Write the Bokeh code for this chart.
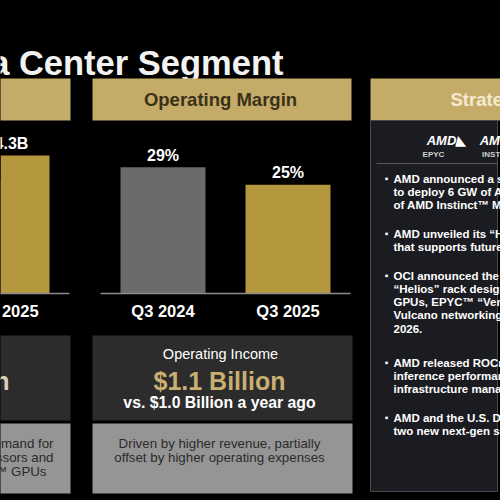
from bokeh.plotting import figure
from bokeh.models import Range1d, GlobalInlineStyleSheet
from bokeh.core.properties import value
from bokeh.embed import file_html
from bokeh.resources import INLINE

# ---------------- data ----------------
revenue_quarters = ["Q3 2024", "Q3 2025"]
revenue_bn = [3.5, 4.3]
revenue_labels = ["$3.5B", "$4.3B"]

margin_quarters = ["Q3 2024", "Q3 2025"]
margin_pct = [29, 25]
margin_labels = ["29%", "25%"]

bar_colors = ["#6b6b6b", "#b5973e"]

title_text = "Data Center Segment"
header_texts = ["Revenue", "Operating Margin", "Strategic Highlights"]

income_title = "Operating Income"
income_value = "$1.1 Billion"
income_compare = "vs. $1.0 Billion a year ago"
income_note = ["Driven by higher revenue, partially", "offset by higher operating expenses"]

revenue_value = "$4.3 Billion"
revenue_note = ["Growth driven by strong demand for", "AMD EPYC\u2122 processors and", "AMD Instinct\u2122 GPUs"]

bullets = [
    ["AMD announced a strategic partnership", "to deploy 6 GW of AMD GPUs, starting", "of AMD Instinct\u2122 MI450 GPUs"],
    ["AMD unveiled its \u201cHelios\u201d rack-scale", "that supports future AI workloads"],
    ["OCI announced the first publicly", "\u201cHelios\u201d rack design with MI450", "GPUs, EPYC\u2122 \u201cVenice\u201d CPUs and",
     "Vulcano networking, starting in", "2026."],
    ["AMD released ROCm 7 delivering", "inference performance gains and", "infrastructure management tools"],
    ["AMD and the U.S. DOE announced", "two new next-gen supercomputers"],
]

# ---------------- layout (pixel space of the slide) ----------------
FONT = value("Liberation Sans")
X0, X1, Y0, Y1 = 0, 500, 0, 500

p = figure(width=500, height=500, x_range=Range1d(X0, X1), y_range=Range1d(Y1, Y0),
           output_backend="svg", toolbar_location=None, min_border=0,
           x_axis_location=None, y_axis_location=None,
           background_fill_color="black", border_fill_color="black", outline_line_color=None)
p.grid.visible = False
p.stylesheets = [GlobalInlineStyleSheet(css="html, body { background: #000; }")]

# chart scales: category pitch / baseline / pixels per unit
PITCH = 125.0
BASE = 293.0
m_first = 162.5
m_scale = 4.35
r_first = 6.5 - PITCH
r_scale = 138.0 / 4.3

p.extra_x_ranges = {
    "m": Range1d((X0 - m_first) / PITCH, (X1 - m_first) / PITCH),
    "r": Range1d((X0 - r_first) / PITCH, (X1 - r_first) / PITCH),
}
p.extra_y_ranges = {
    "m": Range1d((BASE - Y1) / m_scale, (BASE - Y0) / m_scale),
    "r": Range1d((BASE - Y1) / r_scale, (BASE - Y0) / r_scale),
}

# title
p.text(x=[283], y=[62], text=[title_text], text_font=FONT, text_font_style="bold",
       text_font_size="34.5px", text_color="#f2f2f2", text_align="right", text_baseline="alphabetic")

# header bars
GOLD_H = "#c5ab68"
p.quad(left=[-200, 92, 370], right=[70, 351, 520], top=[78, 78, 78], bottom=[120, 120, 120],
       fill_color=GOLD_H, line_color=None)
p.text(x=[220], y=[99], text=[header_texts[1]], text_font=FONT, text_font_style="bold",
       text_font_size="18.5px", text_color="#3a3217", text_align="center", text_baseline="middle")
p.text(x=[-65], y=[99], text=[header_texts[0]], text_font=FONT, text_font_style="bold",
       text_font_size="18.5px", text_color="#3a3217", text_align="center", text_baseline="middle")
p.text(x=[450], y=[99], text=[header_texts[2]], text_font=FONT, text_font_style="bold",
       text_font_size="18.5px", text_color="#f3ead0", text_align="left", text_baseline="middle")

# ---- bar charts ----
for name, cats, vals, labs in (("r", revenue_quarters, revenue_bn, revenue_labels),
                                ("m", margin_quarters, margin_pct, margin_labels)):
    idx = list(range(len(cats)))
    p.vbar(x=idx, top=vals, bottom=0, width=0.68, fill_color=bar_colors, line_color=None,
           x_range_name=name, y_range_name=name)
    p.segment(x0=[-0.5], x1=[len(cats) - 0.5], y0=[0], y1=[0], line_color="#8c8c8c",
              line_width=1.5, x_range_name=name, y_range_name=name)
    p.text(x=idx, y=vals, text=labs, y_offset=-12, text_font=FONT, text_font_style="bold",
           text_font_size="16px", text_color="white", text_align="center", text_baseline="middle",
           x_range_name=name, y_range_name=name)
    p.text(x=idx, y=[0] * len(cats), text=cats, y_offset=17, text_font=FONT, text_font_style="bold",
           text_font_size="16.5px", text_color="white", text_align="center", text_baseline="middle",
           x_range_name=name, y_range_name=name)

# ---- bottom panels ----
p.quad(left=[-200, 92], right=[70, 352], top=[335, 335], bottom=[420, 420],
       fill_color="#2c2c2c", line_color=None)
p.quad(left=[-200, 92], right=[70, 352], top=[423, 423], bottom=[493, 493],
       fill_color="#959595", line_color=None)

p.text(x=[220], y=[353], text=[income_title], text_font=FONT, text_font_size="14.5px",
       text_color="white", text_align="center", text_baseline="middle")
p.text(x=[219], y=[380], text=[income_value], text_font=FONT, text_font_style="bold",
       text_font_size="25px", text_color="#c9b072", text_align="center", text_baseline="middle")
p.text(x=[219], y=[402], text=[income_compare], text_font=FONT, text_font_style="bold",
       text_font_size="15.8px", text_color="white", text_align="center", text_baseline="middle")
p.text(x=[219, 219], y=[443, 457], text=income_note, text_font=FONT, text_font_size="13.3px",
       text_color="#2b2b2b", text_align="center", text_baseline="middle")

p.text(x=[9], y=[380], text=[revenue_value], text_font=FONT, text_font_style="bold",
       text_font_size="25px", text_color="#d8cfb5", text_align="right", text_baseline="middle")
p.text(x=[53, 53, 46], y=[443, 457, 471], text=revenue_note, text_font=FONT, text_font_size="13.3px",
       text_color="#2b2b2b", text_align="right", text_baseline="middle")

# ---- right panel ----
p.quad(left=[370], right=[497], top=[120], bottom=[491], fill_color="#1b1c21",
       line_color="#4a4a4a", line_width=1)
p.text(x=[446, 494], y=[140, 140], text=["AMD\u25E3", "AMD"], text_font=FONT, text_font_style="bold italic",
       text_font_size="13px", text_color="white", text_align="center", text_baseline="middle")
p.text(x=[433, 500], y=[154, 154], text=["EPYC", "INSTINCT"], text_font=FONT, text_font_style="bold",
       text_font_size="8px", text_color="#d0d0d0", text_align="center", text_baseline="middle")
p.segment(x0=[376], x1=[497], y0=[163], y1=[163], line_color="#5a5a5a", line_width=1)

starts = [178, 233, 275, 362, 417]
LINE = 13.3
bx, by, tx, ty, tt = [], [], [], [], []
for s, grp in zip(starts, bullets):
    bx.append(386)
    by.append(s)
    for k, line in enumerate(grp):
        tx.append(393)
        ty.append(s + k * LINE)
        tt.append(line)
p.text(x=bx, y=by, text=["\u25AA"] * len(bx), text_font=FONT, text_font_size="10px",
       text_color="white", text_align="center", text_baseline="middle")
p.text(x=tx, y=ty, text=tt, text_font=FONT, text_font_style="bold", text_font_size="11.5px",
       text_color="white", text_align="left", text_baseline="middle")

open("out.html", "w").write(file_html(p, INLINE))
